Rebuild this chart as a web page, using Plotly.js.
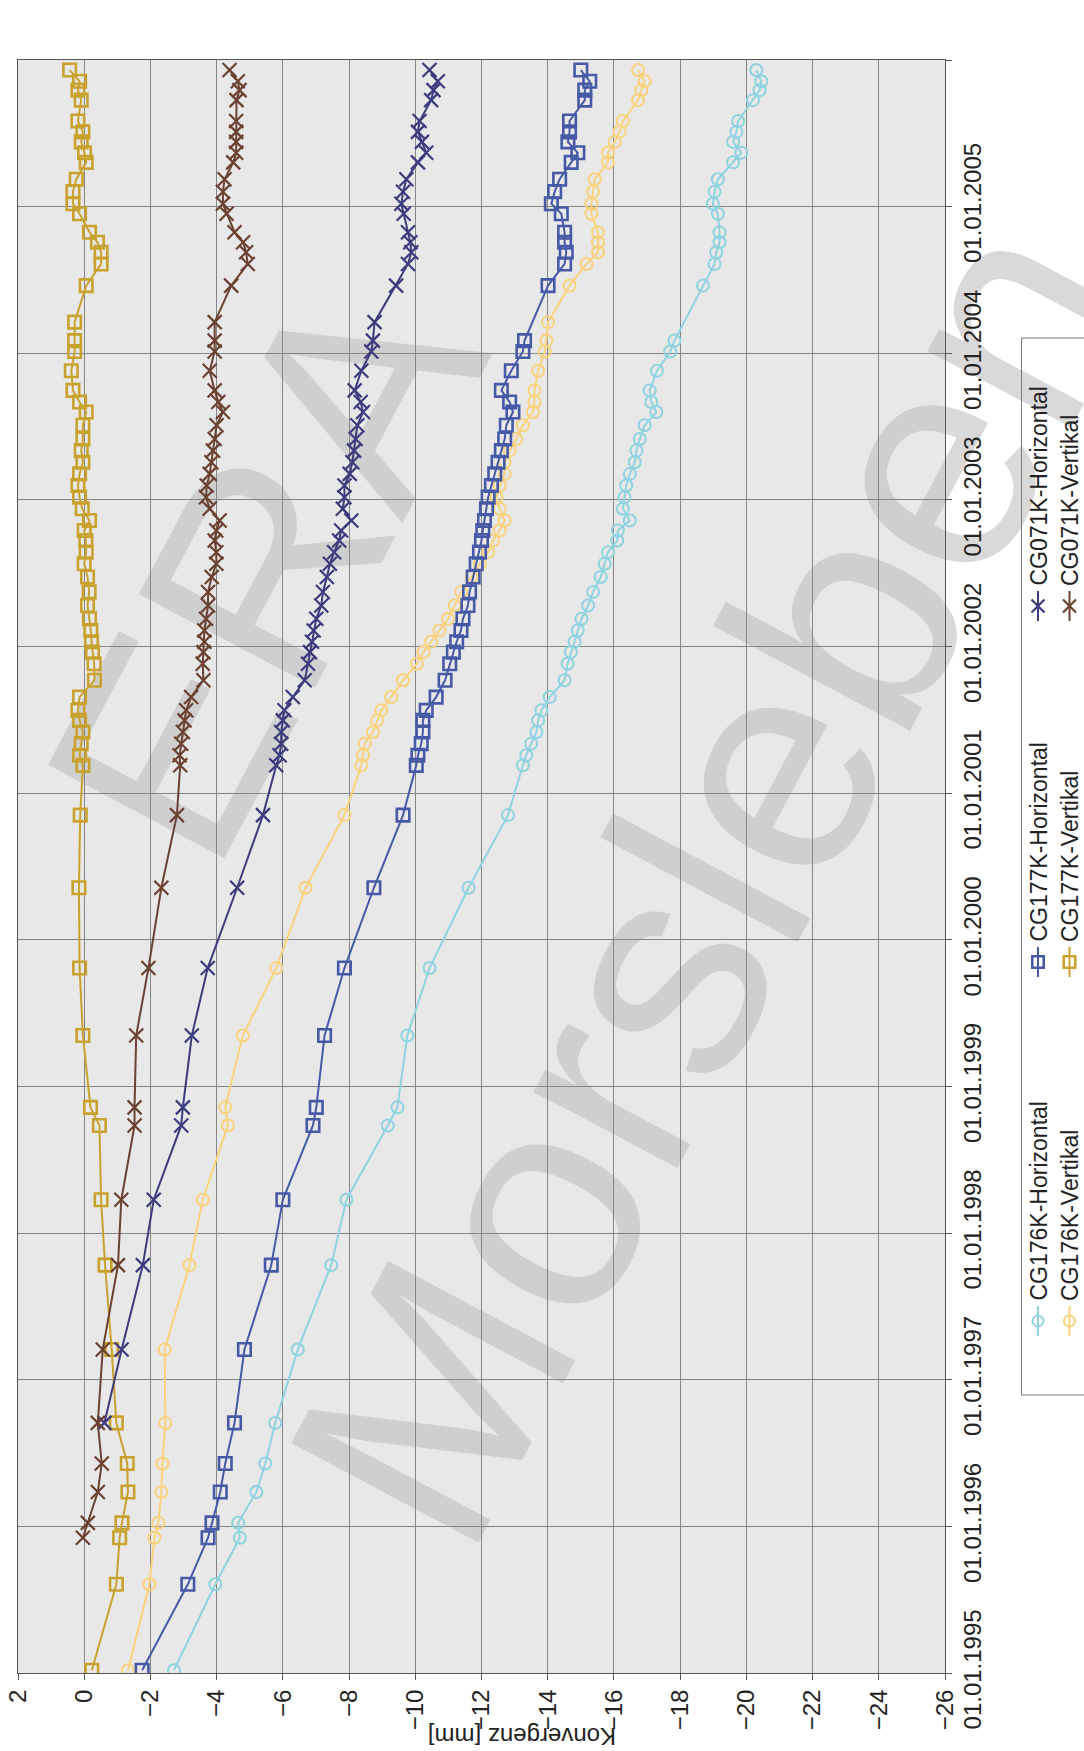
<!DOCTYPE html>
<html><head><meta charset="utf-8">
<script src="https://cdn.plot.ly/plotly-3.0.1.min.js"></script>
<style>html,body{margin:0;padding:0;background:#fff}#chart{width:1084px;height:1751px}</style>
</head><body><div id="chart"></div>
<script>
// ---------- DATA ----------
const dates = [
 '1995-01-08','1995-08-10','1995-12-04','1996-01-10','1996-03-27','1996-06-06','1996-09-15','1997-03-17',
 '1997-10-13','1998-03-25','1998-09-26','1998-11-10','1999-05-08','1999-10-23','2000-05-10','2000-11-07',
 '2001-03-11','2001-04-05','2001-05-04','2001-06-02','2001-07-01','2001-07-26','2001-08-28','2001-10-09',
 '2001-11-19','2001-12-18','2002-01-13','2002-02-10','2002-03-11','2002-04-13','2002-05-17','2002-06-23',
 '2002-07-26','2002-08-24','2002-09-22','2002-10-17','2002-11-11','2002-12-10','2003-01-08','2003-02-06',
 '2003-03-07','2003-04-05','2003-05-04','2003-06-02','2003-07-06','2003-08-08','2003-09-02','2003-10-01',
 '2003-11-19','2004-01-06','2004-02-02','2004-03-19','2004-06-18','2004-08-11','2004-09-09','2004-10-04',
 '2004-10-29','2004-12-14','2005-01-08','2005-02-07','2005-03-10','2005-04-21','2005-05-15','2005-06-11',
 '2005-07-06','2005-08-02','2005-09-23','2005-10-18','2005-11-09','2005-12-07'
];
const cg176kH = [
 -2.71,-3.96,-4.70,-4.65,-5.20,-5.47,-5.77,-6.45,-7.46,-7.92,-9.17,-9.46,-9.76,-10.43,-11.61,-12.80,
 -13.25,-13.35,-13.50,-13.66,-13.71,
 -13.81,-14.06,-14.51,-14.60,-14.70,-14.81,-14.91,-15.02,-15.22,-15.37,-15.60,-15.72,-15.82,-16.10,-16.12,-16.48,
 -16.27,-16.32,-16.37,-16.48,-16.63,-16.68,-16.78,-16.93,-17.28,-17.13,
 -17.08,-17.30,-17.70,-17.83,null,-18.69,-19.04,-19.09,-19.19,-19.19,-19.14,-18.99,-19.04,-19.14,-19.60,-19.85,
 -19.60,-19.70,-19.75,-20.20,-20.40,-20.45,-20.30
];
const cg176kV = [
 -1.32,-1.97,-2.12,-2.24,-2.33,-2.36,-2.45,-2.43,-3.18,-3.58,-4.34,-4.26,-4.79,-5.80,-6.69,-7.86,
 -8.37,-8.42,-8.47,-8.72,-8.85,
 -8.97,-9.27,-9.63,-10.05,-10.25,-10.48,-10.73,-10.99,-11.19,-11.39,-11.70,-11.95,-12.20,-12.35,-12.55,-12.70,
 -12.55,-12.45,-12.55,-12.70,-12.70,-12.85,-13.05,-13.25,-13.55,-13.60,
 -13.60,-13.71,-13.91,-13.96,-14.01,-14.66,-15.17,-15.52,-15.52,-15.52,-15.32,-15.32,-15.37,-15.42,-15.82,-15.82,
 -16.02,-16.17,-16.27,-16.73,-16.83,-16.93,-16.73
];
const cg177kH = [
 -1.75,-3.13,-3.74,-3.86,-4.11,-4.26,-4.54,-4.84,-5.65,-6.00,-6.91,-7.01,-7.26,-7.86,-8.75,-9.63,
 -10.03,-10.08,-10.18,-10.23,-10.23,
 -10.33,-10.63,-10.90,-11.04,-11.15,-11.25,-11.38,-11.44,-11.59,-11.64,-11.75,-11.84,-11.94,-12.00,-12.04,-12.09,
 -12.15,-12.20,-12.30,-12.40,-12.50,-12.60,-12.70,-12.75,-12.95,-12.85,
 -12.60,-12.90,-13.25,-13.30,null,-14.01,-14.51,-14.56,-14.51,-14.51,-14.41,-14.11,-14.21,-14.36,-14.71,-14.91,
 -14.61,-14.66,-14.66,-15.12,-15.12,-15.27,-15.00
];
const cg177kV = [
 -0.23,-0.97,-1.07,-1.14,-1.32,-1.30,-0.97,-0.83,-0.63,-0.51,-0.46,-0.19,0.04,0.14,0.16,0.12,
 0.04,0.14,0.09,0.04,0.14,
 0.19,0.14,-0.31,-0.30,-0.25,-0.22,-0.20,-0.16,-0.10,-0.15,-0.10,0.00,-0.06,-0.05,0.00,-0.16,
 0.06,0.14,0.19,0.14,0.04,0.09,0.04,0.04,-0.06,0.14,
 0.34,0.39,0.29,0.29,0.29,-0.06,-0.51,-0.51,-0.40,-0.16,0.14,0.34,0.34,0.24,-0.06,-0.01,
 0.09,0.04,0.19,0.09,0.19,0.14,0.44
];
const cg071kH = [
 null,null,null,null,null,null,-0.61,-1.13,-1.77,-2.10,-2.93,-2.98,-3.25,-3.73,-4.62,-5.40,
 -5.80,-5.90,-5.95,-5.95,-6.00,
 -6.05,-6.30,-6.66,-6.76,-6.82,-6.88,-6.93,-7.01,-7.16,-7.21,-7.33,-7.42,-7.55,-7.70,-7.76,-8.07,
 -7.81,-7.86,-7.86,-8.02,-8.10,-8.15,-8.20,-8.25,-8.42,-8.35,
 -8.17,-8.37,-8.67,-8.72,-8.77,-9.42,-9.78,-9.88,-9.85,-9.78,-9.65,-9.58,-9.63,-9.73,-10.08,-10.33,
 -10.20,-10.08,-10.13,-10.48,-10.55,-10.68,-10.43
];
const cg071kV = [
 null,null,0.04,-0.11,-0.41,-0.53,-0.41,-0.56,-1.02,-1.12,-1.52,-1.52,-1.57,-1.94,-2.33,-2.80,
 -2.90,-2.88,-2.93,-2.98,-3.03,
 -3.08,-3.23,-3.60,-3.58,-3.60,-3.63,-3.63,-3.68,-3.74,-3.74,-3.85,-3.99,-3.99,-3.94,-3.99,-4.09,
 -3.79,-3.68,-3.70,-3.79,-3.84,-3.89,-3.94,-4.00,-4.19,-4.05,
 -3.94,-3.79,-3.94,-3.94,-3.94,-4.44,-4.94,-4.89,-4.80,-4.54,-4.30,-4.19,-4.19,-4.24,-4.50,-4.59,
 -4.59,-4.59,-4.59,-4.60,-4.69,-4.64,-4.39
];
const seriesNames = ['CG176K-Horizontal','CG176K-Vertikal','CG177K-Horizontal','CG177K-Vertikal','CG071K-Horizontal','CG071K-Vertikal'];
const valueRange = [2, -26];
const dateRange = ['1995-01-01', '2006-01-01'];
const valueTitle = 'Konvergenz [mm]';
const watermark = ['ERA', 'Morsleben'];

// ---------- STYLE / LAYOUT ----------
const FONT = 'Liberation Sans, Arial, Helvetica, sans-serif';
const W = 1084, H = 1751, L = 18, T = 60, B = 78;
const plotRight = 945;
const mainDomainX = [0, (plotRight - L) / (W - L)];
const legX0 = 1010;
const px = x => (x - L) / (W - L);          // page px -> paper x
const py = y => (H - B - y) / (H - B - T);  // page px -> paper y

const styles = [
  {color:'#8ed3df', symbol:'circle-open', size:12, mlw:2},
  {color:'#fbd27c', symbol:'circle-open', size:12, mlw:2},
  {color:'#4659a6', symbol:'square-open', size:12.5, mlw:2.6},
  {color:'#c9a22e', symbol:'square-open', size:12.5, mlw:2.6},
  {color:'#3c3b7d', symbol:'x-thin-open', size:14, mlw:2.2},
  {color:'#6b4131', symbol:'x-thin-open', size:14, mlw:2.2}
];
const values = [cg176kH, cg176kV, cg177kH, cg177kV, cg071kH, cg071kV];

const traces = values.map((v, i) => ({
  type:'scatter', mode:'lines+markers', name: seriesNames[i],
  x: v, y: dates, xaxis:'x', yaxis:'y', connectgaps:true, showlegend:false,
  line:{color:styles[i].color, width:2},
  marker:{symbol:styles[i].symbol, size:styles[i].size, color:styles[i].color,
          line:{color:styles[i].color, width:styles[i].mlw}}
}));

// custom rotated legend (drawn on a hidden helper axis pair measured in page pixels)
const legCols = [1038, 1069.5];
const legRows = [1321, 962, 606];
const annotations = [];
seriesNames.forEach((name, i) => {
  const cx = legCols[i % 2], cy = legRows[Math.floor(i / 2)];
  traces.push({type:'scatter', mode:'lines', x:[cx, cx], y:[cy + 15, cy - 15], xaxis:'x2', yaxis:'y2',
    showlegend:false, hoverinfo:'skip', line:{color:styles[i].color, width:2}});
  traces.push({type:'scatter', mode:'markers', x:[cx], y:[cy], xaxis:'x2', yaxis:'y2',
    showlegend:false, hoverinfo:'skip',
    marker:{symbol:styles[i].symbol, size:styles[i].size - 1, color:styles[i].color,
            line:{color:styles[i].color, width:styles[i].mlw}}});
  annotations.push({xref:'x2', yref:'y2', x:cx, y:cy - 18, text:name, textangle:-90,
    xanchor:'center', yanchor:'bottom', showarrow:false, font:{family:FONT, size:23, color:'#222'}});
});

annotations.push({xref:'paper', yref:'paper', x:px(522), y:py(1737),
  text:valueTitle, textangle:180, showarrow:false, xanchor:'center', yanchor:'middle',
  font:{family:FONT, size:24, color:'#222'}});

const wm = (text, cx, cy, size) => ({
  type:'rect', xref:'paper', yref:'paper', layer:'below',
  x0:px(cx) - 0.001, x1:px(cx) + 0.001, y0:py(cy) - 0.001, y1:py(cy) + 0.001,
  line:{width:0}, fillcolor:'rgba(0,0,0,0)',
  label:{text:text, textangle:-62, textposition:'middle center',
         font:{family:FONT, size:size, color:'rgba(185,185,185,0.55)'}}
});

const shapes = [
  {type:'rect', xref:'paper', yref:'paper', layer:'below', x0:0, x1:mainDomainX[1], y0:0, y1:1,
   line:{width:0}, fillcolor:'#e8e8e8'},
  wm(watermark[0], 240, 556, 290),
  wm(watermark[1], 684, 866, 308),
  {type:'rect', xref:'x2', yref:'y2', x0:1021.5, x1:1100, y0:338, y1:1395,
   line:{color:'#7a7a7a', width:1}, fillcolor:'rgba(0,0,0,0)'}
];

const layout = {
  width:W, height:H, margin:{l:L, r:0, t:T, b:B},
  paper_bgcolor:'#ffffff', plot_bgcolor:'rgba(0,0,0,0)',
  font:{family:FONT, size:24, color:'#222'},
  showlegend:false,
  xaxis:{domain:mainDomainX, range:valueRange, autorange:false, tick0:0, dtick:2,
         tickangle:-90, ticks:'outside', ticklen:6, tickcolor:'#555', tickwidth:1,
         showgrid:true, gridcolor:'#858585', gridwidth:1, zeroline:false,
         showline:true, linecolor:'#555', linewidth:1, mirror:true,
         tickfont:{family:FONT, size:24, color:'#222'}, anchor:'y'},
  yaxis:{type:'date', range:dateRange, autorange:false, side:'right', tick0:'1995-01-01', dtick:'M12',
         tickformat:'%d.%m.%Y', tickangle:-90, ticks:'outside', ticklen:6, tickcolor:'#555',
         showgrid:true, gridcolor:'#858585', gridwidth:1, zeroline:false,
         showline:true, linecolor:'#555', linewidth:1, mirror:true,
         tickfont:{family:FONT, size:24, color:'#222'}, anchor:'x'},
  xaxis2:{domain:[px(legX0), 1], range:[legX0, W], visible:false, anchor:'y2', fixedrange:true},
  yaxis2:{domain:[0, 1], range:[H - B, T], visible:false, anchor:'x2', fixedrange:true},
  annotations:annotations,
  shapes:shapes
};

Plotly.newPlot('chart', traces, layout, {displayModeBar:false, staticPlot:true});
</script>
</body></html>
